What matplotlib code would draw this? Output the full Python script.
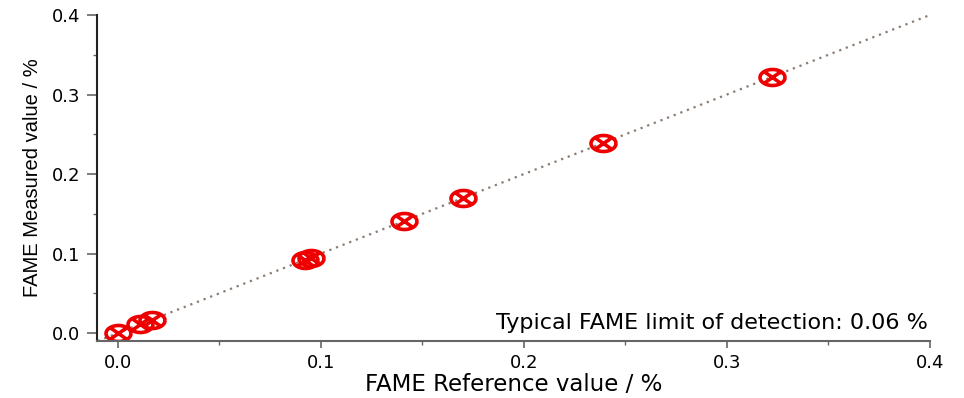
import matplotlib
matplotlib.use("Agg")
import matplotlib.pyplot as plt
import numpy as np
from matplotlib.path import Path

plt.rcParams['font.family'] = ['DejaVu Sans']

reference = [0.000, 0.011, 0.017, 0.092, 0.095, 0.141, 0.170, 0.239, 0.322]
measured = [0.000, 0.011, 0.016, 0.092, 0.094, 0.141, 0.170, 0.239, 0.322]
line_x = [-0.01, 0.4]

# custom marker: ellipse with an X inside
t = np.linspace(0, 2 * np.pi, 60)
ell = np.column_stack([np.cos(t), 0.64 * np.sin(t)])
verts = list(ell) + [(-0.6, -0.42), (0.6, 0.42), (-0.6, 0.42), (0.6, -0.42)]
codes = [Path.MOVETO] + [Path.LINETO] * (len(ell) - 1) + [Path.MOVETO, Path.LINETO, Path.MOVETO, Path.LINETO]
marker = Path(verts, codes)

fig = plt.figure(figsize=(9.64, 3.98), dpi=100)
ax = fig.add_axes([0.1006, 0.1432, 0.8641, 0.8191])

ax.plot(line_x, line_x, linestyle=(0, (1, 2.2)), color='#8c7b70', linewidth=1.6, zorder=1)
ax.plot(reference, measured, linestyle='none', marker=marker, markersize=18,
        markerfacecolor='none', markeredgecolor='#ee0000', markeredgewidth=2.6, zorder=2)

ax.set_xlim(-0.0103, 0.4)
ax.set_ylim(-0.01, 0.4)
ax.set_xticks([0.0, 0.1, 0.2, 0.3, 0.4])
ax.set_yticks([0.0, 0.1, 0.2, 0.3, 0.4])
ax.set_xticks(np.arange(0.05, 0.4, 0.1), minor=True)
ax.set_yticks(np.arange(0.05, 0.4, 0.1), minor=True)
ax.set_xticklabels(['0.0', '0.1', '0.2', '0.3', '0.4'])
ax.set_yticklabels(['0.0', '0.1', '0.2', '0.3', '0.4'])
for s in ['top', 'right']:
    ax.spines[s].set_visible(False)
ax.spines['left'].set_color('#222222')
ax.spines['bottom'].set_color('#666666')
for s in ['left', 'bottom']:
    ax.spines[s].set_linewidth(1.5)
ax.tick_params(axis='y', which='major', direction='out', length=7, width=1.2, color='#666666', labelsize=13, pad=5)
ax.tick_params(axis='x', which='major', direction='out', length=5, width=1.2, color='#666666', labelsize=13, pad=4)
ax.tick_params(which='minor', direction='out', length=3, width=1.0, color='#666666')

ax.set_xlabel('FAME Reference value / %', fontsize=16.5, labelpad=1)
ax.set_ylabel('FAME Measured value / %', fontsize=14.5, labelpad=7,
              family=['Liberation Sans Narrow', 'Liberation Sans', 'DejaVu Sans'])

ax.text(0.997, 0.026, 'Typical FAME limit of detection: 0.06 %', transform=ax.transAxes,
        ha='right', va='bottom', fontsize=16)

fig.savefig('out.png', dpi=100)
